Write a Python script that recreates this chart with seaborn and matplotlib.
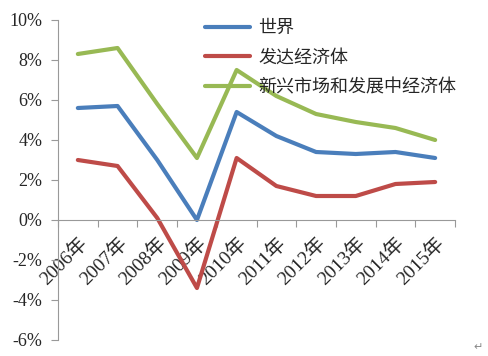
import matplotlib
matplotlib.use("Agg")
import matplotlib.pyplot as plt
import seaborn as sns
import pandas as pd
import numpy as np
from matplotlib.ticker import FixedLocator, PercentFormatter

years = ["2006年", "2007年", "2008年", "2009年", "2010年",
         "2011年", "2012年", "2013年", "2014年", "2015年"]
world = [5.6, 5.7, 3.0, 0.0, 5.4, 4.2, 3.4, 3.3, 3.4, 3.1]
developed = [3.0, 2.7, 0.1, -3.4, 3.1, 1.7, 1.2, 1.2, 1.8, 1.9]
emerging = [8.3, 8.6, 5.8, 3.1, 7.5, 6.2, 5.3, 4.9, 4.6, 4.0]
series_names = ["世界", "发达经济体", "新兴市场和发展中经济体"]
colors = ["#4A7EBB", "#BE4B48", "#98B954"]
yticks = [-6, -4, -2, 0, 2, 4, 6, 8, 10]

sns.set_style("white")
plt.rcParams["font.family"] = ["Liberation Serif", "Noto Sans CJK SC", "DejaVu Sans"]
plt.rcParams["axes.unicode_minus"] = False

rows = []
for name, vals in zip(series_names, [world, developed, emerging]):
    for i, v in enumerate(vals):
        rows.append({"x": i, "year": years[i], "series": name, "value": v})
df = pd.DataFrame(rows)

fig = plt.figure(figsize=(4.88, 3.56), dpi=100)
ax = fig.add_axes([58/488, 1-340/356, 397/488, 320/356])

sns.lineplot(data=df, x="x", y="value", hue="series", hue_order=series_names,
             palette=colors, linewidth=3, ax=ax, legend=True)

ax.set_xlim(-0.5, len(years) - 0.5)
ax.set_ylim(-6, 10)
ax.set_yticks(yticks)
ax.yaxis.set_major_formatter(PercentFormatter(decimals=0))
ax.set_xlabel("")
ax.set_ylabel("")

for s in ["top", "right"]:
    ax.spines[s].set_visible(False)
ax.spines["bottom"].set_position(("data", 0))
ax.spines["bottom"].set_color("#999999")
ax.spines["left"].set_color("#999999")

ax.xaxis.set_major_locator(FixedLocator(np.arange(-0.5, len(years), 1.0)))
ax.xaxis.set_major_formatter(plt.NullFormatter())
ax.xaxis.set_minor_locator(FixedLocator(np.arange(len(years))))
ax.set_xticklabels(years, minor=True)
ax.tick_params(axis="x", which="major", direction="out", length=5, color="#999999", bottom=True)
ax.tick_params(axis="x", which="minor", length=0, pad=10, labelsize=14)
for lab in ax.get_xticklabels(minor=True):
    lab.set_rotation(45)
    lab.set_ha("right")
    lab.set_va("top")
    lab.set_rotation_mode("anchor")
ax.tick_params(axis="y", direction="out", length=5, color="#999999", left=True, labelsize=13, pad=6)

leg = ax.legend(loc="upper left", bbox_to_anchor=(205/488, 1-19/356),
                bbox_transform=fig.transFigure, frameon=False,
                fontsize=13, handlelength=2.5, handletextpad=0.45,
                labelspacing=0.65, borderaxespad=0, borderpad=0)
for t in leg.get_texts():
    t.set_family(["Noto Sans CJK SC", "DejaVu Sans"])

fig.text(473/488, 1-347/356, "↵", fontsize=8, color="#888888",
         family=["DejaVu Sans"], ha="left", va="center")

fig.savefig("out.png", dpi=100)
